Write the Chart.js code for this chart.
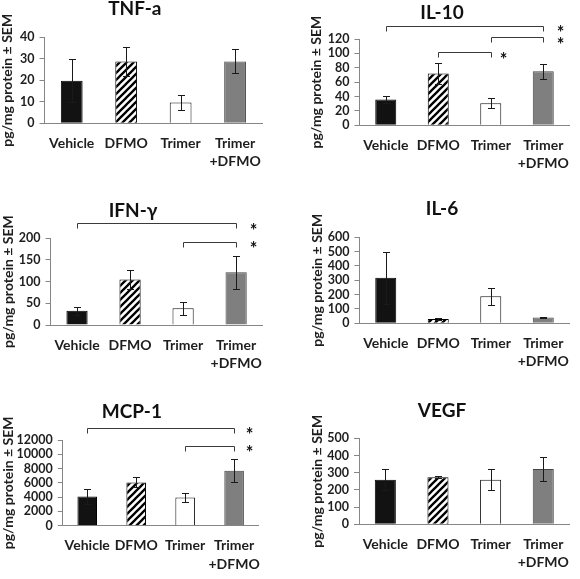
<!DOCTYPE html>
<html><head><meta charset="utf-8">
<script src="https://cdn.jsdelivr.net/npm/chart.js@4/dist/chart.umd.min.js"></script>
<style>
html,body{margin:0;padding:0;background:#fff;width:580px;height:579px;overflow:hidden;position:relative}
canvas{position:absolute}
</style></head><body>
<script>
// ---------- data ----------
const categories = ['Vehicle', 'DFMO', 'Trimer', 'Trimer\n+DFMO'];
const yAxisTitle = 'pg/mg protein ± SEM';
const sigMark = '*';

const tnfTitle = 'TNF-a';
const tnfMean = [19.8, 28.7, 9.7, 28.8];
const tnfSem  = [10, 6.8, 3.5, 5.6];
const tnfTicks = [0, 10, 20, 30, 40];
const tnfSig = [];

const il10Title = 'IL-10';
const il10Mean = [36, 72, 30.6, 75];
const il10Sem  = [5, 14, 7, 10];
const il10Ticks = [0, 20, 40, 60, 80, 100, 120];
const il10Sig = [[0, 3], [2, 3], [1, 2]];

const ifnTitle = 'IFN-γ';
const ifnMean = [33, 105, 38.5, 121.5];
const ifnSem  = [9, 23, 15, 38];
const ifnTicks = [0, 50, 100, 150, 200];
const ifnSig = [[0, 3], [2, 3]];

const il6Title = 'IL-6';
const il6Mean = [318, 30, 188, 40];
const il6Sem  = [182, 4, 60, 5];
const il6Ticks = [0, 100, 200, 300, 400, 500, 600];
const il6Sig = [];

const mcpTitle = 'MCP-1';
const mcpMean = [4100, 6050, 3950, 7700];
const mcpSem  = [1000, 700, 600, 1580];
const mcpTicks = [0, 2000, 4000, 6000, 8000, 10000, 12000];
const mcpSig = [[0, 3], [2, 3]];

const vegfTitle = 'VEGF';
const vegfMean = [259, 273, 259, 321];
const vegfSem  = [60, 6, 60, 72];
const vegfTicks = [0, 100, 200, 300, 400, 500];
const vegfSig = [];

// ---------- style / layout ----------
const FONT = 'Lato, "Open Sans", sans-serif';
const AXIS = '#868686';
const TXT = '#1e1e1e';

const panels = [
  {title: tnfTitle, mean: tnfMean, sem: tnfSem, ticks: tnfTicks, sig: tnfSig,
   left: 0, top: 0, w: 272, h: 180, padR: 2.5, padB: 11.7, yW: 44.5, yT: -0.5, tT: 0, tB: 19.3, sigStyle: []},
  {title: il10Title, mean: il10Mean, sem: il10Sem, ticks: il10Ticks, sig: il10Sig,
   left: 305, top: 0, w: 275, h: 180, padR: 1, padB: 9.7, yW: 54.5, yT: 3.4, tT: 3.5, tB: 17.5,
   sigStyle: [{dy: -13.3, star: 'right', sy: 2.6}, {dy: -2.3, star: 'right', sy: 3.3}, {dy: 13.3, star: 'after', sy: 3.4}]},
  {title: ifnTitle, mean: ifnMean, sem: ifnSem, ticks: ifnTicks, sig: ifnSig,
   left: -5, top: 180, w: 278, h: 200, padR: 2, padB: 10, yW: 55.5, yT: 5, tT: 22, tB: 18.3,
   sigStyle: [{dy: -15.6, star: 'right', sy: 4}, {dy: 4, star: 'right', sy: 2.7}]},
  {title: il6Title, mean: il6Mean, sem: il6Sem, ticks: il6Ticks, sig: il6Sig,
   left: 305, top: 180, w: 275, h: 200, padR: 1, padB: 11.7, yW: 54.5, yT: 3.7, tT: 20.2, tB: 19.1, sigStyle: []},
  {title: mcpTitle, mean: mcpMean, sem: mcpSem, ticks: mcpTicks, sig: mcpSig,
   left: -5, top: 380, w: 276, h: 199, padR: 2.25, padB: 8.3, yW: 67.75, yT: 5, tT: 23, tB: 19,
   sigStyle: [{dy: -12.3, star: 'right', sy: 2.3}, {dy: 5.7, star: 'right', sy: 2.6}]},
  {title: vegfTitle, mean: vegfMean, sem: vegfSem, ticks: vegfTicks, sig: vegfSig,
   left: 305, top: 380, w: 275, h: 199, padR: 1, padB: 9.7, yW: 54, yT: 3.7, tT: 22, tB: 18.3, sigStyle: []}
];

function hatchPattern(ctx) {
  const t = document.createElement('canvas');
  t.width = 7; t.height = 7;
  const g = t.getContext('2d');
  g.fillStyle = '#fff'; g.fillRect(0, 0, 7, 7);
  g.strokeStyle = '#000'; g.lineWidth = 2.3;
  g.beginPath();
  g.moveTo(-1, 8); g.lineTo(8, -1);
  g.moveTo(-1, 1); g.lineTo(1, -1);
  g.moveTo(6, 8); g.lineTo(8, 6);
  g.stroke();
  return ctx.createPattern(t, 'repeat');
}

function errPlugin(sem) {
  return {
    id: 'errBars',
    afterDatasetsDraw(chart) {
      const ctx = chart.ctx, meta = chart.getDatasetMeta(0), y = chart.scales.y;
      const vals = chart.data.datasets[0].data;
      ctx.save();
      ctx.strokeStyle = '#1a1a1a'; ctx.lineWidth = 1;
      meta.data.forEach((bar, i) => {
        const x = Math.round(bar.x) + 0.5;
        const yt = Math.round(y.getPixelForValue(vals[i] + sem[i])) + 0.5;
        const yb = Math.round(y.getPixelForValue(vals[i] - sem[i])) + 0.5;
        ctx.beginPath();
        ctx.moveTo(x, yt); ctx.lineTo(x, yb);
        ctx.moveTo(x - 3.5, yt); ctx.lineTo(x + 3.5, yt);
        ctx.moveTo(x - 3.5, yb); ctx.lineTo(x + 3.5, yb);
        ctx.stroke();
      });
      ctx.restore();
    }
  };
}

function sigPlugin(pairs, styles) {
  return {
    id: 'sigBrackets',
    afterDraw(chart) {
      const ctx = chart.ctx, xs = chart.scales.x, ca = chart.chartArea;
      ctx.save();
      ctx.strokeStyle = '#3a3a3a'; ctx.lineWidth = 1;
      ctx.fillStyle = '#111';
      ctx.font = 'bold 18px ' + FONT;
      ctx.textAlign = 'center'; ctx.textBaseline = 'middle';
      pairs.forEach((pr, k) => {
        const st = styles[k];
        const x1 = Math.round(xs.getPixelForValue(pr[0])) + 0.5;
        const x2 = Math.round(xs.getPixelForValue(pr[1])) + 0.5;
        const yy = Math.round(ca.top + st.dy) + 0.5;
        ctx.beginPath();
        ctx.moveTo(x1, yy + 5); ctx.lineTo(x1, yy); ctx.lineTo(x2, yy); ctx.lineTo(x2, yy + 5);
        ctx.stroke();
        const sx = st.star === 'right' ? ca.right - 9 : x2 + 12;
        ctx.fillText(sigMark, sx, yy + st.sy + 4);
      });
      ctx.restore();
    }
  };
}

panels.forEach(p => {
  const cv = document.createElement('canvas');
  cv.width = p.w; cv.height = p.h;
  cv.style.left = p.left + 'px'; cv.style.top = p.top + 'px';
  document.body.appendChild(cv);
  const ctx = cv.getContext('2d');
  const fills = ['#121212', hatchPattern(ctx), '#ffffff', '#7f7f7f'];
  const borders = ['#000', '#000', '#111', '#444'];
  new Chart(cv, {
    type: 'bar',
    data: {
      labels: categories.map(s => s.split('\n')),
      datasets: [{data: p.mean, backgroundColor: fills, borderColor: borders, borderWidth: 1,
                  barPercentage: 0.4, categoryPercentage: 1}]
    },
    options: {
      responsive: false, animation: false, devicePixelRatio: 1,
      layout: {padding: {left: 0, right: p.padR, top: 0, bottom: p.padB}},
      plugins: {
        legend: {display: false}, tooltip: {enabled: false},
        title: {display: true, text: p.title, color: '#111',
                font: {family: FONT, size: 19, weight: 'bold', lineHeight: 18 / 19},
                padding: {top: p.tT, bottom: p.tB}}
      },
      scales: {
        x: {
          grid: {display: true, drawOnChartArea: false, drawTicks: false},
          border: {color: AXIS, width: 1},
          ticks: {color: TXT, padding: 11, font: {family: FONT, size: 14, weight: 'bold', lineHeight: 1.3}, maxRotation: 0, autoSkip: false},
          afterFit(s) { s.height = 45; }
        },
        y: {
          min: p.ticks[0], max: p.ticks[p.ticks.length - 1],
          grid: {display: true, drawOnChartArea: false, drawTicks: true, tickLength: 5, color: AXIS},
          border: {color: AXIS, width: 1},
          ticks: {stepSize: p.ticks[1] - p.ticks[0], color: TXT, padding: 5, autoSkip: false,
                  font: {family: FONT, size: 12.5, weight: 'bold', lineHeight: 1}, callback: v => String(v)},
          title: {display: true, text: yAxisTitle, color: TXT,
                  font: {family: FONT, size: 14, weight: 'bold', lineHeight: 1.2},
                  padding: {top: p.yT, bottom: 0}},
          afterFit(s) { s.width = p.yW; }
        }
      }
    },
    plugins: [errPlugin(p.sem), sigPlugin(p.sig, p.sigStyle)]
  });
});
</script>
</body></html>
